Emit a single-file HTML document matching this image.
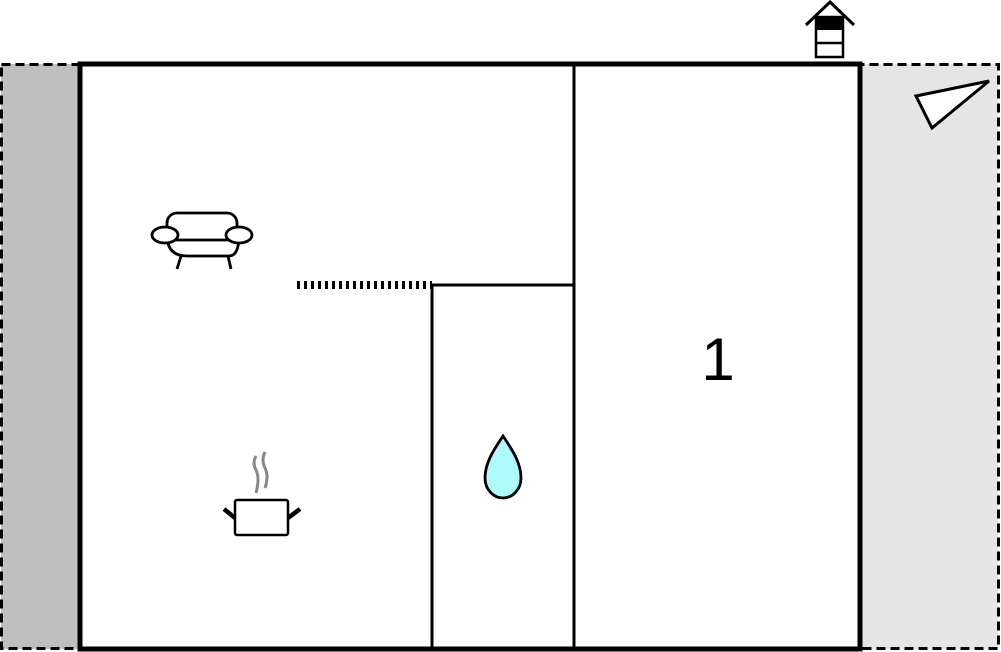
<!DOCTYPE html>
<html><head><style>html,body{margin:0;padding:0;background:#fff;}svg{display:block}</style></head><body>
<svg width="1001" height="652" viewBox="0 0 1001 652" xmlns="http://www.w3.org/2000/svg">
<rect x="1" y="64" width="79" height="585" fill="#bfbfbf"/>
<rect x="860" y="64" width="138" height="585" fill="#e5e5e5"/>
<rect x="1.5" y="64.5" width="997" height="584" fill="none" stroke="#000" stroke-width="3" stroke-dasharray="9,5"/>
<rect x="80" y="64" width="780" height="585" fill="#fff" stroke="#000" stroke-width="5"/>
<line x1="574" y1="64" x2="574" y2="649" stroke="#000" stroke-width="3"/>
<line x1="432" y1="285" x2="574" y2="285" stroke="#000" stroke-width="3"/>
<line x1="432" y1="285" x2="432" y2="649" stroke="#000" stroke-width="3"/>
<line x1="297" y1="285" x2="432" y2="285" stroke="#000" stroke-width="8" stroke-dasharray="3,4"/>
<text x="718" y="380" style="font-family:'Liberation Sans',sans-serif" font-size="60" text-anchor="middle">1</text>
<polygon points="916,96 989,81 932,128" fill="#fff" stroke="#000" stroke-width="3"/>
<polyline points="806,25 830,2 854,25" fill="none" stroke="#000" stroke-width="3"/>
<rect x="816" y="17" width="27" height="40" fill="#fff" stroke="#000" stroke-width="2.5"/>
<rect x="816" y="17" width="27" height="13" fill="#000"/>
<line x1="816" y1="43" x2="843" y2="43" stroke="#000" stroke-width="2.5"/>
<g fill="#fff" stroke="#000" stroke-width="2.8">
<path d="M167,235 Q167,256 187,256 L229,256 Q239,256 239,235 Z"/>
<rect x="167" y="213" width="70" height="27" rx="10"/>
<ellipse cx="165" cy="235" rx="13" ry="8"/>
<ellipse cx="239" cy="235" rx="13" ry="8"/>
<line x1="181" y1="256" x2="177" y2="269"/>
<line x1="228" y1="256" x2="231" y2="269"/>
</g>
<g fill="none" stroke="#888" stroke-width="3">
<path d="M256,456 Q252,463 256,470 Q260,478 256,493"/>
<path d="M265,452 Q261,460 265,468 Q269,476 265,488"/>
</g>
<rect x="235" y="500" width="53" height="35" rx="2" fill="#fff" stroke="#000" stroke-width="2.5"/>
<line x1="224" y1="509" x2="235" y2="518" stroke="#000" stroke-width="4.5"/>
<line x1="288" y1="518" x2="300" y2="509" stroke="#000" stroke-width="4.5"/>
<path d="M503,436 C495,448 485,462 485,478 C485,490 494,498 503,498 C512,498 521,490 521,478 C521,462 511,448 503,436 Z" fill="#aefbfd" stroke="#000" stroke-width="2.8"/>
</svg>
</body></html>
